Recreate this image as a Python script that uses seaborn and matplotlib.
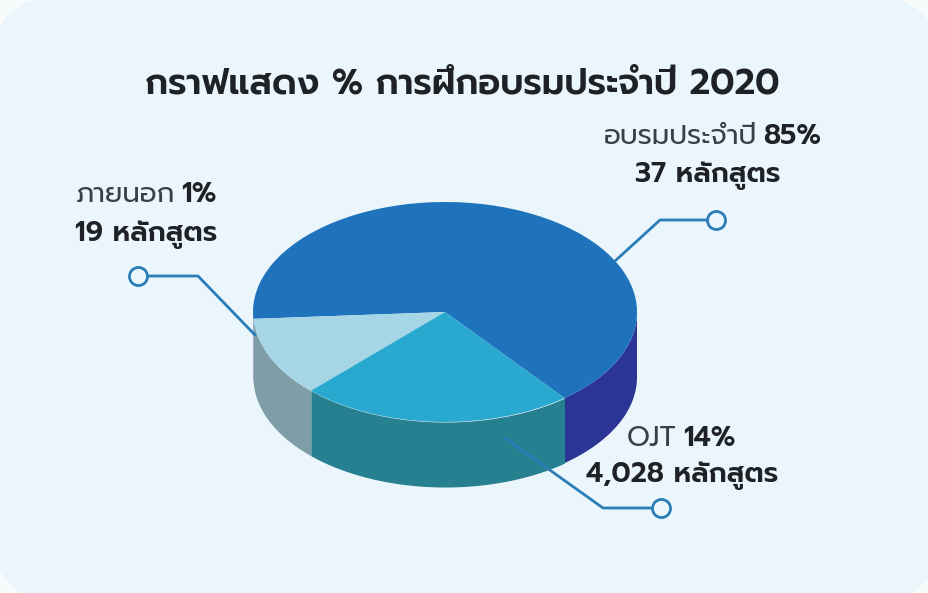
import numpy as np
import matplotlib
matplotlib.use('Agg')
import matplotlib.pyplot as plt
from matplotlib.patches import FancyBboxPatch
import seaborn as sns

# slice sizes as drawn in the picture (the printed labels say something else)
slice_names = ['อบรมประจำปี', 'ภายนอก', 'OJT']
slice_shares = [65.3, 11.7, 23.0]
top_colors = ['#1E73BC', '#A6D5E5', '#2AA9D0']
side_colors = ['#2B3595', '#7F9DA6', '#26808F']

title_text = 'กราฟแสดง % การฝึกอบรมประจำปี 2020'
pct_labels = ['85%', '1%', '14%']
course_labels = ['37 หลักสูตร', '19 หลักสูตร', '4,028 หลักสูตร']

sns.set_theme(style='white')
plt.rcParams['font.family'] = ['Prompt', 'Noto Sans Thai', 'DejaVu Sans']

W, H = 929, 593
fig = plt.figure(figsize=(W / 100, H / 100), dpi=100, facecolor='#F8FBFB')

# pixel overlay for panel, text and leader lines
over = fig.add_axes([0, 0, 1, 1], zorder=2)
over.set_xlim(0, W)
over.set_ylim(H, 0)
over.axis('off')
over.patch.set_alpha(0)

panel = FancyBboxPatch((28, 32), 876, 534, boxstyle='round,pad=0,rounding_size=1',
                       mutation_scale=25, mutation_aspect=1, facecolor='#EBF5FC',
                       edgecolor='#EBF5FC', linewidth=50, transform=over.transData, zorder=-5)
fig.add_artist(panel)

# the pie: squashed by giving the axes a non equal aspect
x0, x1, y_top, y_mid, y_front = 253, 637, 202, 312, 422
depth_px = 65
rx = (x1 - x0) / 2
ry = y_mid - y_top
ax = fig.add_axes([x0 / W, 1 - (y_front + depth_px) / H, (x1 - x0) / W,
                   (y_front + depth_px - y_top) / H], zorder=1)
start = -51.5
ax.pie(slice_shares, colors=sns.color_palette(top_colors), startangle=start,
       radius=1, wedgeprops={'linewidth': 0}, normalize=True)
ax.set_aspect('auto')
ax.set_xlim(-1, 1)
ax.set_ylim(-(y_front + depth_px - y_mid) / ry, 1)
ax.patch.set_alpha(0)

# side wall of each slice
depth = depth_px / ry
edges = start + np.cumsum([0] + slice_shares) * 3.6
for i, col in enumerate(side_colors):
    t = np.radians(np.linspace(edges[i], edges[i + 1], 300))
    ax.fill_between(np.cos(t), np.sin(t), np.sin(t) - depth, where=np.sin(t) <= 0.001,
                    color=col, linewidth=0, zorder=0)

ink = '#1E2226'
ink2 = '#3A3F45'
size = 20


def two_part(xj, y, left, right):
    over.text(xj - 3, y, left, ha='right', va='center', fontsize=size, color=ink2)
    over.text(xj + 3, y, right, ha='left', va='center', fontsize=size, color=ink, fontweight='semibold')


over.text(462, 84, title_text, ha='center', va='center', fontsize=25.5,
          fontweight='semibold', color=ink)

two_part(760, 136, slice_names[0], pct_labels[0])
over.text(708, 176, course_labels[0], ha='center', va='center', fontsize=size,
          fontweight='semibold', color=ink)
two_part(178, 194, slice_names[1], pct_labels[1])
over.text(146, 235, course_labels[1], ha='center', va='center', fontsize=size,
          fontweight='semibold', color=ink)
two_part(680, 438, slice_names[2], pct_labels[2])
over.text(682, 476, course_labels[2], ha='center', va='center', fontsize=size,
          fontweight='semibold', color=ink)

# leader lines with open circle ends
leaders = [
    ([716, 660, 615], [220, 220, 261]),
    ([138, 198, 255], [276, 276, 335]),
    ([661, 603, 505], [508, 508, 438]),
]
for xs, ys in leaders:
    over.plot(xs, ys, color='#2B7DB8', linewidth=2, solid_capstyle='round', zorder=3)
    over.plot(xs[0], ys[0], marker='o', markersize=13, markerfacecolor='#EBF5FC',
              markeredgecolor='#2B7DB8', markeredgewidth=2, zorder=4)

fig.savefig('out.png', dpi=100, facecolor=fig.get_facecolor())
